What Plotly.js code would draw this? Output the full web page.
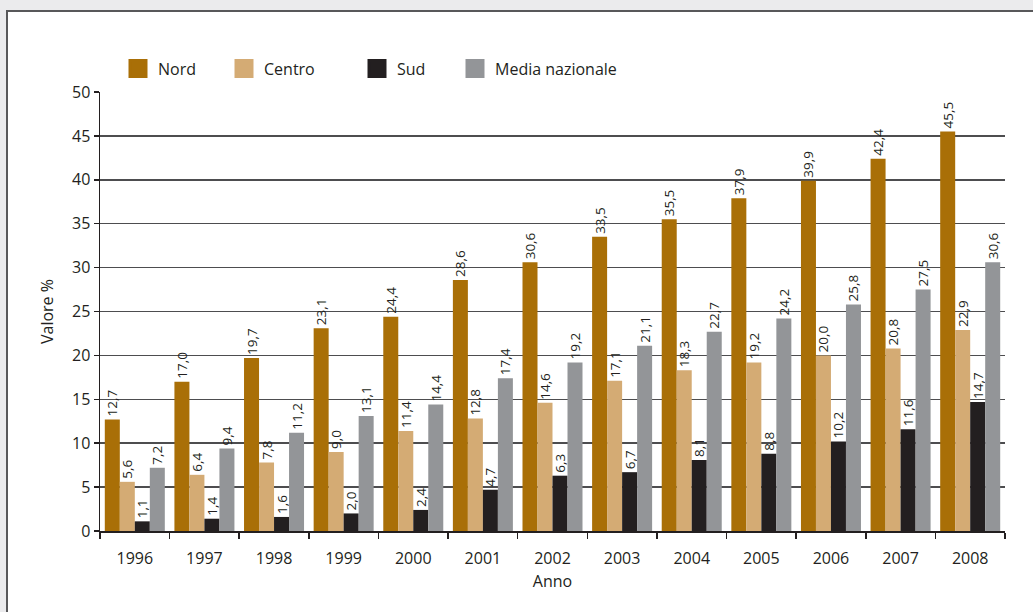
<!DOCTYPE html>
<html>
<head>
<meta charset="utf-8">
<script src="https://cdn.plot.ly/plotly-3.0.1.min.js"></script>
<style>html,body{margin:0;padding:0;background:#ebebed;}#chart{width:1033px;height:612px;}</style>
</head>
<body>
<div id="chart"></div>
<script>
const anni = ['1996','1997','1998','1999','2000','2001','2002','2003','2004','2005','2006','2007','2008'];
const nord = [12.7, 17.0, 19.7, 23.1, 24.4, 28.6, 30.6, 33.5, 35.5, 37.9, 39.9, 42.4, 45.5];
const centro = [5.6, 6.4, 7.8, 9.0, 11.4, 12.8, 14.6, 17.1, 18.3, 19.2, 20.0, 20.8, 22.9];
const sud = [1.1, 1.4, 1.6, 2.0, 2.4, 4.7, 6.3, 6.7, 8.1, 8.8, 10.2, 11.6, 14.7];
const media = [7.2, 9.4, 11.2, 13.1, 14.4, 17.4, 19.2, 21.1, 22.7, 24.2, 25.8, 27.5, 30.6];
const nomi = ['Nord', 'Centro', 'Sud', 'Media nazionale'];
const colori = ['#a96f07', '#d4ab74', '#231f20', '#939598'];
const serie = [nord, centro, sud, media];

const FONT = 'Open Sans, Noto Sans, sans-serif';
const fmt = v => v.toFixed(1).replace('.', ',');

const traces = [];
serie.forEach((vals, i) => {
  traces.push({
    type: 'bar', x: anni, y: vals, name: nomi[i],
    marker: {color: colori[i], line: {width: 0}},
    text: vals.map(fmt), textposition: 'outside', textangle: -90,
    constraintext: 'none', cliponaxis: false,
    textfont: {family: FONT, size: 13.5, color: '#231f20'},
    showlegend: false, hoverinfo: 'x+y'
  });
});
// legend entries
const legX = [118, 224, 357, 455];
serie.forEach((vals, i) => {
  traces.push({
    type: 'scatter', mode: 'markers', x: [null], y: [null], name: nomi[i],
    marker: {symbol: 'square', size: 16, color: colori[i], line: {color: colori[i], width: 3}},
    legend: i === 0 ? 'legend' : 'legend' + (i + 1), showlegend: true
  });
});

const legBase = i => ({
  xref: 'paper', yref: 'paper', x: (legX[i] - 100) / 905, y: (531 - 68.5) / 439,
  xanchor: 'left', yanchor: 'middle', bgcolor: 'rgba(0,0,0,0)',
  font: {family: FONT, size: 16, color: '#231f20'}, itemwidth: 30
});

const layout = {
  width: 1033, height: 612,
  paper_bgcolor: '#ebebed', plot_bgcolor: '#ffffff',
  margin: {l: 100, r: 28, t: 92, b: 81, autoexpand: false},
  barmode: 'group', bargap: 0.138, bargroupgap: 0,
  font: {family: FONT, size: 16, color: '#231f20'},
  xaxis: {
    type: 'category', tickson: 'boundaries', ticks: 'outside', ticklen: 6,
    tickcolor: '#231f20', tickwidth: 1.5, showline: true, linecolor: '#231f20', linewidth: 1.5,
    showgrid: false, tickangle: 0, ticklabelstandoff: 12,
    tickfont: {family: FONT, size: 16, color: '#231f20'},
    title: {text: 'Anno', font: {family: FONT, size: 16, color: '#231f20'}, standoff: 8}
  },
  yaxis: {
    range: [0, 50], dtick: 5, tick0: 0, ticks: 'outside', ticklen: 5,
    tickcolor: '#231f20', tickwidth: 1.5, showline: true, linecolor: '#231f20', linewidth: 1.5,
    showgrid: true, gridcolor: '#4d4d4f', gridwidth: 1.5, zeroline: false,
    tickfont: {family: FONT, size: 16, color: '#231f20'},
    title: {text: 'Valore %', font: {family: FONT, size: 16, color: '#231f20'}, standoff: 14}
  },
  legend: legBase(0), legend2: legBase(1), legend3: legBase(2), legend4: legBase(3),
  shapes: [{
    type: 'rect', xref: 'paper', yref: 'paper', layer: 'below',
    x0: (7 - 100) / 905, x1: 1.2, y0: -0.5, y1: (531 - 11) / 439,
    fillcolor: '#ffffff', line: {color: '#58585a', width: 2}
  }]
};

Plotly.newPlot('chart', traces, layout, {displayModeBar: false, staticPlot: true});
</script>
</body>
</html>
